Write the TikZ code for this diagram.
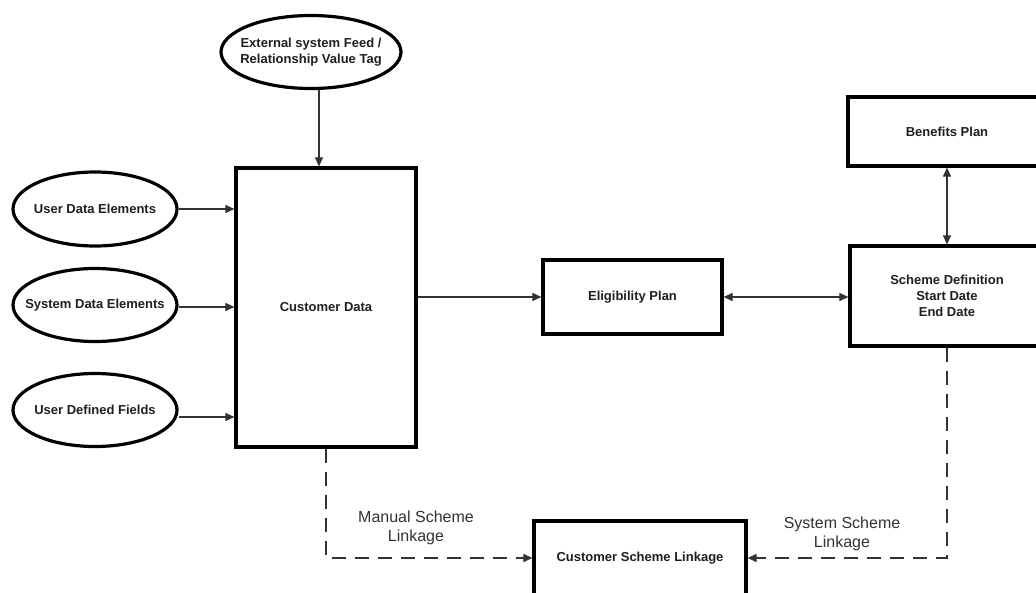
\documentclass[tikz,border=0pt]{standalone}
\usepackage{fontspec}
\setmainfont{Liberation Sans}
\usetikzlibrary{shapes.geometric,arrows.meta,calc}
\begin{document}
\begin{tikzpicture}[x=1pt,y=-1pt,
  boxnode/.style={draw=black,line width=3.2pt,rectangle,inner sep=0pt,
    font=\fontsize{13}{16}\selectfont\bfseries,text=black!88,align=center},
  ellnode/.style={draw=black,line width=3.2pt,ellipse,inner xsep=-15pt,inner ysep=-12pt,
    font=\fontsize{13}{15.5}\selectfont\bfseries,text=black!88,align=center},
  conn/.style={draw=black!80,line width=1.1pt,-{Triangle[length=9pt,width=8pt]}},
  biconn/.style={draw=black!80,line width=1.1pt,{Triangle[length=9pt,width=8pt]}-{Triangle[length=9pt,width=8pt]}},
  dashconn/.style={draw=black!80,line width=1.1pt,dash pattern=on 14pt off 9pt,-{Triangle[length=9pt,width=8pt]}},
  lbl/.style={font=\fontsize{16}{19.5}\selectfont,text=black!80,align=center}
]
\useasboundingbox (0,0) rectangle (1036,592);
\fill[white] (0,0) rectangle (1036,592);

\node[ellnode,minimum width=180pt,minimum height=73pt] (ext) at (311,52) {External system Feed /\\Relationship Value Tag};
\node[ellnode,minimum width=164pt,minimum height=74pt] (ude) at (95,209) {User Data Elements};
\node[ellnode,minimum width=164pt,minimum height=73pt] (sde) at (95,305) {System Data Elements};
\node[ellnode,minimum width=164pt,minimum height=73pt] (udf) at (95,410) {User Defined Fields};

\node[boxnode,minimum width=180pt,minimum height=279pt] (cd) at (326,307.5) {Customer Data};
\node[boxnode,minimum width=179pt,minimum height=74pt] (ep) at (632.5,297) {Eligibility Plan};
\node[boxnode,minimum width=194pt,minimum height=100pt] (sd) at (947,296) {Scheme Definition\\Start Date\\End Date};
\node[boxnode,minimum width=198pt,minimum height=69pt] (bp) at (947,131.5) {Benefits Plan};
\node[boxnode,minimum width=212pt,minimum height=74pt] (csl) at (640,558) {Customer Scheme Linkage};

\draw[conn] ([xshift=8pt]ext.south) -- ([xshift=-7pt]cd.north);
\draw[conn] (ude.east) -- (ude.east -| cd.west);
\draw[conn] ([yshift=-2pt]sde.east) -- ([yshift=-2pt]sde.east -| cd.west);
\draw[conn] ([yshift=-7pt]udf.east) -- ([yshift=-7pt]udf.east -| cd.west);
\draw[conn] (cd.east |- ep.west) -- (ep.west);
\draw[biconn] (ep.east) -- (ep.east -| sd.west);
\draw[biconn] (bp.south) -- (sd.north);
\draw[dashconn] (cd.south) |- (csl.west);
\draw[dashconn] (sd.south) |- (csl.east);

\node[lbl] (ml) at (416,528) {Manual Scheme\\Linkage};
\node[lbl] (sl) at (842,534) {System Scheme\\Linkage};
\end{tikzpicture}
\end{document}
